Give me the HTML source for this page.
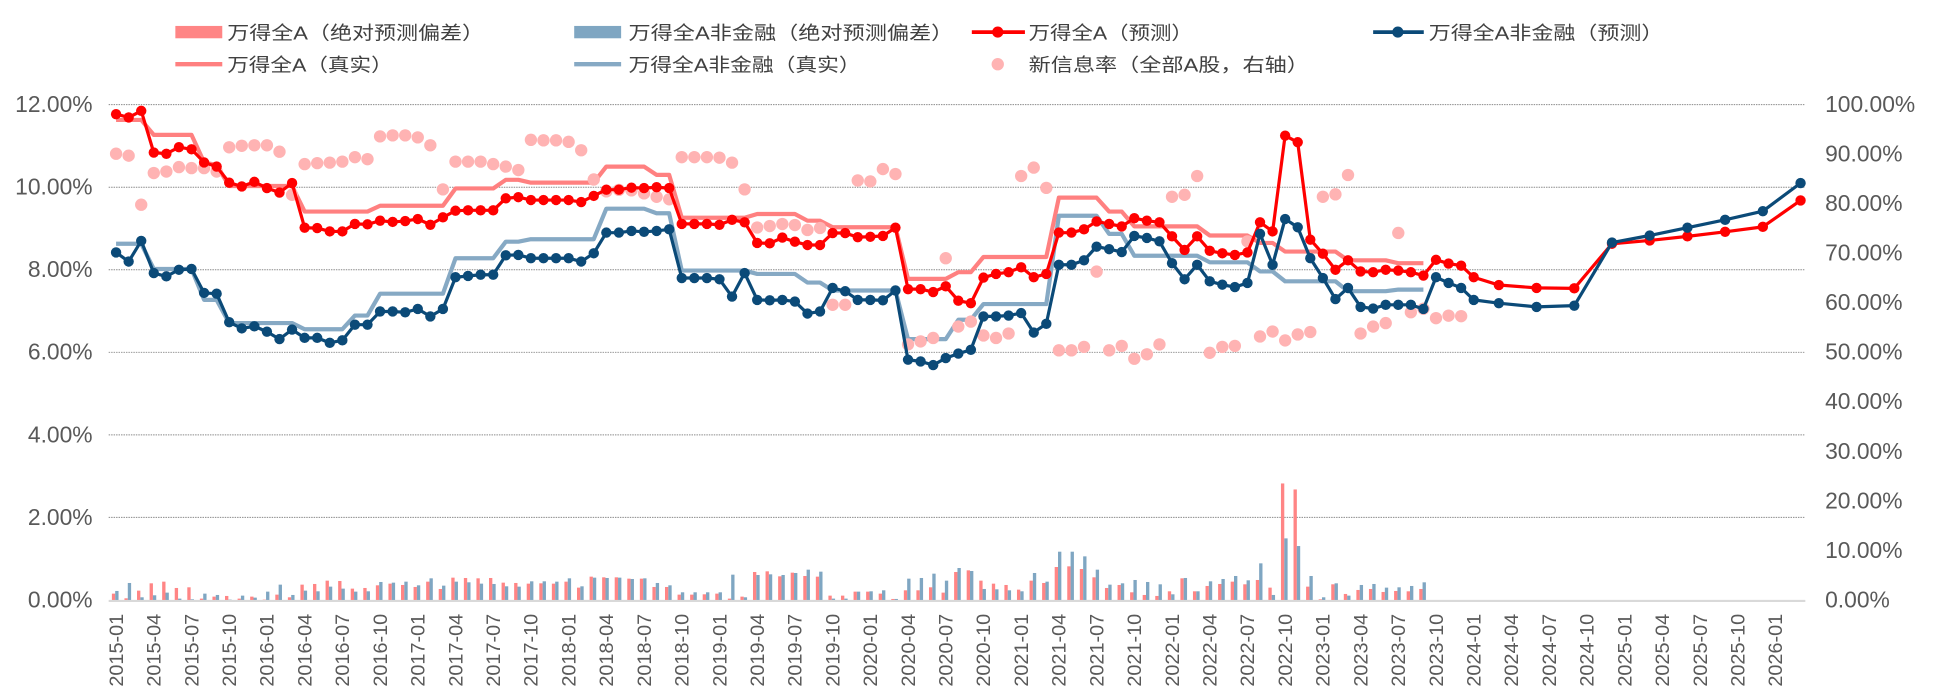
<!DOCTYPE html>
<html><head><meta charset="utf-8">
<style>
html,body{margin:0;padding:0;background:#fff;}
svg{display:block;}
text{font-family:"Liberation Sans","Noto Sans CJK SC",sans-serif;}
</style></head>
<body>
<svg id="c" xmlns="http://www.w3.org/2000/svg" width="1935" height="699" viewBox="0 0 1567 566" preserveAspectRatio="none">
<rect width="1567" height="566" fill="#fff"/>
<g id="grid"></g>
<g id="bars"></g>
<g id="real"></g>
<g id="scat"></g>
<g id="pred"></g>
<g id="labels" fill="#595959" font-size="18.5"></g>
<g id="legend" font-size="15" fill="#404040">
  <rect x="142" y="21" width="38" height="10" fill="#FF8585"/>
  <text x="184" y="32" textLength="208" lengthAdjust="spacingAndGlyphs">万得全A（绝对预测偏差）</text>
  <rect x="465" y="21" width="38" height="10" fill="#7FA6C2"/>
  <text x="509" y="32" textLength="263" lengthAdjust="spacingAndGlyphs">万得全A非金融（绝对预测偏差）</text>
  <line x1="787" y1="26" x2="830" y2="26" stroke="#FF0000" stroke-width="3"/>
  <circle cx="808" cy="26" r="4.5" fill="#FF0000"/>
  <text x="833" y="32" textLength="133" lengthAdjust="spacingAndGlyphs">万得全A（预测）</text>
  <line x1="1112" y1="26" x2="1153" y2="26" stroke="#0B4A78" stroke-width="3"/>
  <circle cx="1132" cy="26" r="4.5" fill="#0B4A78"/>
  <text x="1157" y="32" textLength="190" lengthAdjust="spacingAndGlyphs">万得全A非金融（预测）</text>
  <line x1="142" y1="52" x2="180" y2="52" stroke="#FF8080" stroke-width="3.5"/>
  <text x="184" y="58" textLength="134" lengthAdjust="spacingAndGlyphs">万得全A（真实）</text>
  <line x1="465" y1="52" x2="503" y2="52" stroke="#86A9C4" stroke-width="3.5"/>
  <text x="509" y="58" textLength="188" lengthAdjust="spacingAndGlyphs">万得全A非金融（真实）</text>
  <circle cx="808" cy="52" r="5" fill="#FFB3B3"/>
  <text x="833" y="58" textLength="227" lengthAdjust="spacingAndGlyphs">新信息率（全部A股，右轴）</text>
</g>
</svg>
<script>
var NS="http://www.w3.org/2000/svg";
function X(m){return 94+m*10.18;}
function Y(v){return 485.8-v*33.42;}
function R(r){return Y(r*0.12);}
function el(t,a,p,txt){var e=document.createElementNS(NS,t);for(var k in a)e.setAttribute(k,a[k]);if(txt!==undefined)e.textContent=txt;document.getElementById(p).appendChild(e);return e;}
for(var i=1;i<=6;i++){var y=Y(i*2);el('line',{x1:88,x2:1462,y1:y,y2:y,stroke:'#8a8a8a','stroke-width':0.8,'stroke-dasharray':'1.2,0.8'},'grid');}
el('line',{x1:88,x2:1462,y1:Y(0)+0.8,y2:Y(0)+0.8,stroke:'#d9d9d9','stroke-width':1.8},'grid');
for(var i=0;i<=6;i++){el('text',{x:75,y:Y(i*2)+6,'text-anchor':'end'},'labels',(i*2).toFixed(2)+'%');}
for(var i=0;i<=10;i++){el('text',{x:1478,y:R(i*10)+6},'labels',(i*10).toFixed(2)+'%');}
for(var q=0;q<=44;q++){var m=q*3;var yr=2015+Math.floor(m/12);var mo=(m%12)+1;var s=yr+'-'+(mo<10?'0':'')+mo;var x=X(m)+5.5;
 el('text',{x:x,y:497,'text-anchor':'end',transform:'rotate(-90 '+x+' 497)',textLength:59,lengthAdjust:'spacingAndGlyphs','font-size':16},'labels',s);}
var rb=[192,206,183,161,156,175,173,207,201,199,207,201,210,195,203,165,163,153,154,177,175,167,162,166,172,156,178,144,145,146,145,159,160,162,161,162,156,174,141,143,
143,147,147,172,172,195,195,194,192,207,201,127,125,140,129,139,141,198,198,186,186,192,208,182,182,173,189,127,122,153,162,166,180,153,160,112,110,118,143,175];
var bb=[184,160,203,197,189,207,209,192,196,210,198,204,186,165,196,183,185,171,177,186,185,157,159,156,167,146,168,156,158,162,163,170,171,155,155,156,146,170,144,145,
144,148,146,160,167,188,188,188,188,135,203,136,134,136,130,120,126,207,207,186,185,182,208,147,145,132,153,115,124,178,179,182,185,130,156,66,66,80,120,165];
var rv=[],bv=[];
for(var i=0;i<80;i++){rv.push((211-rb[i])/124);bv.push((211-bb[i])/124);}
var r2=[345,367,375,378,364,325,364,348,342,335,343,330,353,40,58,350,388,343,372,360,357,366,363,364,357];
var b2=[340,330,336,343,373,324,364,334,327,318,331,280,375,205,228,318,382,340,377,345,342,353,352,348,337];
for(var i=0;i<25;i++){rv.push((390-r2[i])/124);bv.push((390-b2[i])/124);}
for(var m=0;m<rv.length;m++){var x=X(m);
 var h1=Math.max(0,rv[m])*33.42,h2=Math.max(0,bv[m])*33.42;
 if(h1>0)el('rect',{x:x-3.4,y:485.8-h1,width:2.7,height:h1,fill:'#FF8585'},'bars');
 if(h2>0)el('rect',{x:x-0.7,y:485.8-h2,width:2.7,height:h2,fill:'#7FA6C2'},'bars');}
function steps(arr){var out=[];arr.forEach(function(s){for(var m=s[0];m<=s[1];m++)out.push([m,s[2]]);});return out;}
var redReal=steps([[0,2,11.63],[3,6,11.27],[7,7,10.6],[8,8,10.54],[9,14,10.03],[15,20,9.41],[21,26,9.55],[27,30,9.97],[31,32,10.18],[33,38,10.11],[39,42,10.5],[43,44,10.3],[45,50,9.26],[51,54,9.35],[55,56,9.19],[57,62,9.03],[63,66,7.78],[67,68,7.94],[69,74,8.31],[75,78,9.75],[79,80,9.41],[81,86,9.05],[87,90,8.83],[91,92,8.65],[93,97,8.44],[98,101,8.23],[102,104,8.16]]);
var blueReal=steps([[0,2,8.63],[3,6,8.02],[7,8,7.27],[9,14,6.71],[15,18,6.56],[19,20,6.89],[21,26,7.42],[27,30,8.28],[31,32,8.68],[33,38,8.74],[39,42,9.48],[43,44,9.37],[45,50,7.98],[51,54,7.9],[55,56,7.69],[57,62,7.5],[63,66,6.32],[67,68,6.79],[69,74,7.17],[75,78,9.31],[79,80,8.87],[81,86,8.34],[87,90,8.18],[91,92,7.96],[93,97,7.72],[98,101,7.48],[102,104,7.52]]);
function pts(a,f){return a.map(function(p){return X(p[0]).toFixed(1)+','+f(p[1]).toFixed(1);}).join(' ');}
el('polyline',{points:pts(redReal,Y),fill:'none',stroke:'#FF8080','stroke-width':3.4,'stroke-linejoin':'round'},'real');
el('polyline',{points:pts(blueReal,Y),fill:'none',stroke:'#86A9C4','stroke-width':3.4,'stroke-linejoin':'round'},'real');
var sc=[90.1,89.7,79.8,86.2,86.5,87.4,87.2,87.2,86.5,91.4,91.7,91.8,91.8,90.5,81.8,88.0,88.2,88.3,88.5,89.4,89.0,93.6,93.8,93.8,93.4,91.8,82.9,88.5,88.5,88.5,88.0,87.5,86.8,92.9,92.8,92.8,92.5,90.8,84.9,82.5,82.8,82.7,82.1,81.4,80.9,89.4,89.4,89.4,89.3,88.3,82.9,75.2,75.5,75.9,75.7,74.7,75.1,59.6,59.6,84.7,84.5,87.0,86.0,51.6,52.2,52.9,69.0,55.2,56.2,53.4,52.9,53.8,85.6,87.3,83.2,50.4,50.4,51.1,66.3,50.4,51.3,48.7,49.6,51.6,81.4,81.8,85.6,49.9,51.1,51.3,72.4,53.2,54.2,52.4,53.6,54.1,81.4,81.9,85.8,53.8,55.2,55.9,74.1,58.1,58.8,56.9,57.4,57.3];
for(var m=0;m<sc.length;m++)el('circle',{cx:X(m),cy:R(sc[m]),r:5,fill:'#FFB3B3'},'scat');
var rp={0:11.77,1:11.69,2:11.85,3:10.84,4:10.81,5:10.97,6:10.92,7:10.6,8:10.5,9:10.11,10:10.02,11:10.13,12:9.98,13:9.87,14:10.1,15:9.02,16:9.01,17:8.93,18:8.93,19:9.11,20:9.1,21:9.19,22:9.16,23:9.18,24:9.23,25:9.09,26:9.27,27:9.43,28:9.44,29:9.44,30:9.44,31:9.73,32:9.76,33:9.69,34:9.69,35:9.69,36:9.69,37:9.64,38:9.79,39:9.94,40:9.94,41:9.99,42:9.98,43:10.0,44:9.98,45:9.11,46:9.11,47:9.11,48:9.09,49:9.21,50:9.15,51:8.65,52:8.64,53:8.78,54:8.68,55:8.6,56:8.6,57:8.89,58:8.89,59:8.79,60:8.8,61:8.82,62:9.02,63:7.53,64:7.53,65:7.46,66:7.6,67:7.25,68:7.19,69:7.81,70:7.9,71:7.94,72:8.06,73:7.82,74:7.9,75:8.9,76:8.9,77:8.98,78:9.17,79:9.11,80:9.05,81:9.25,82:9.19,83:9.15,84:8.81,85:8.48,86:8.81,87:8.46,88:8.4,89:8.36,90:8.42,91:9.15,92:8.93,93:11.25,94:11.09,95:8.73,96:8.39,97:8.0,98:8.23,99:7.96,100:7.94,101:8.0,102:7.98,103:7.94,104:7.86,105:8.24,106:8.15,107:8.1,108:7.82,110:7.63,113:7.56,116:7.55,119:8.63,122:8.71,125:8.81,128:8.92,131:9.04,134:9.68};
var bp={0:8.42,1:8.2,2:8.7,3:7.92,4:7.84,5:8.0,6:8.02,7:7.44,8:7.42,9:6.73,10:6.58,11:6.63,12:6.5,13:6.32,14:6.55,15:6.35,16:6.35,17:6.23,18:6.29,19:6.67,20:6.67,21:6.99,22:6.99,23:6.97,24:7.05,25:6.87,26:7.05,27:7.82,28:7.85,29:7.88,30:7.88,31:8.35,32:8.36,33:8.28,34:8.28,35:8.28,36:8.28,37:8.2,38:8.4,39:8.9,40:8.9,41:8.94,42:8.92,43:8.94,44:8.98,45:7.8,46:7.8,47:7.8,48:7.77,49:7.35,50:7.92,51:7.27,52:7.26,53:7.27,54:7.23,55:6.94,56:6.99,57:7.56,58:7.48,59:7.27,60:7.27,61:7.26,62:7.5,63:5.82,64:5.78,65:5.69,66:5.86,67:5.97,68:6.06,69:6.87,70:6.87,71:6.89,72:6.95,73:6.48,74:6.69,75:8.12,76:8.12,77:8.23,78:8.56,79:8.5,80:8.43,81:8.82,82:8.77,83:8.69,84:8.16,85:7.77,86:8.12,87:7.72,88:7.64,89:7.58,90:7.68,91:8.87,92:8.12,93:9.23,94:9.03,95:8.28,96:7.8,97:7.29,98:7.56,99:7.1,100:7.06,101:7.15,102:7.15,103:7.15,104:7.05,105:7.82,106:7.68,107:7.56,108:7.27,110:7.19,113:7.1,116:7.13,119:8.66,122:8.83,125:9.02,128:9.21,131:9.42,134:10.1};
function drawPred(o,col){var a=Object.keys(o).map(Number).sort(function(a,b){return a-b;}).map(function(k){return [k,o[k]];});
 el('polyline',{points:pts(a,Y),fill:'none',stroke:col,'stroke-width':2.6,'stroke-linejoin':'round'},'pred');
 a.forEach(function(p){el('circle',{cx:X(p[0]),cy:Y(p[1]),r:4.2,fill:col},'pred');});}
drawPred(rp,'#FF0000');
drawPred(bp,'#0B4A78');
</script>
</body></html>
